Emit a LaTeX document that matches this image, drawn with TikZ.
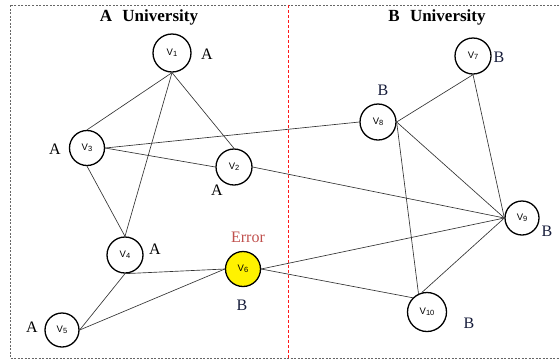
\documentclass[tikz,border=0pt]{standalone}
\usepackage{fontspec}
\setmainfont{Liberation Serif}
\newfontfamily\nodefont{Liberation Sans}
\definecolor{errred}{RGB}{192,80,77}
\definecolor{bblue}{RGB}{22,28,58}
\newcommand{\vlab}[1]{{\nodefont\fontsize{9.5}{10}\selectfont V\raisebox{-1pt}{\fontsize{7.5}{8}\selectfont #1}}}
\begin{document}
\begin{tikzpicture}[x=1pt,y=-1pt,
  vert/.style={circle,draw=black,line width=1.3pt,inner sep=0pt,fill=white},
  edge/.style={draw=black!80,line width=0.65pt},
  lab/.style={font=\fontsize{16}{16}\selectfont,inner sep=0pt},
  labB/.style={lab,text=bblue},
  title/.style={font=\fontsize{17}{17}\selectfont\bfseries,inner sep=0pt}]
\useasboundingbox (0,0) rectangle (559,360);
\draw[gray!80!black,line width=0.7pt,dash pattern=on 2pt off 1.5pt] (10,5) rectangle (565,358);
\draw[red!90,line width=0.7pt,dash pattern=on 3pt off 2pt] (288,5) -- (288,358);
\node[title] (tA) at (149,17) {A\hspace{0.6em}University};
\node[title] (tB) at (437,17) {B\hspace{0.6em}University};
% vertices
\node[vert,minimum size=38pt] (v1) at (172,53) {\vlab{1}};
\node[vert,minimum size=36pt] (v2) at (234,167) {\vlab{2}};
\node[vert,minimum size=35pt] (v3) at (87,148) {\vlab{3}};
\node[vert,minimum size=36pt] (v4) at (125,255) {\vlab{4}};
\node[vert,minimum size=34pt] (v5) at (62,330) {\vlab{5}};
\node[vert,minimum size=35pt,fill=yellow] (v6) at (243,269) {\vlab{6}};
\node[vert,minimum size=36pt] (v7) at (473,56) {\vlab{7}};
\node[vert,minimum size=36pt] (v8) at (378,122) {\vlab{8}};
\node[vert,minimum size=34pt] (v9) at (522,218) {\vlab{9}};
\node[vert,minimum size=39pt] (v10) at (427,312) {\vlab{10}};
% edges
\path[edge] (v1.south) -- (v3.north);
\path[edge] (v1.south) -- (v4.north);
\path[edge] (v1.south) -- (v2.north);
\path[edge] (v3.east) -- (v8.west);
\path[edge] (v3.east) -- (v2.west);
\path[edge] (v2.east) -- (v9.west);
\path[edge] (v3.south) -- (v4.north);
\path[edge] (v4.south) -- (v6.west);
\path[edge] (v4.south) -- (v5.east);
\path[edge] (v5.east) -- (v6.west);
\path[edge] (v6.east) -- (v9.west);
\path[edge] (v6.east) -- (v10.north west);
\path[edge] (v8.east) -- (v7.south);
\path[edge] (v8.east) -- (v9.west);
\path[edge] (v8.east) -- (v10.115);
\path[edge] (v7.south) -- (v9.west);
\path[edge] (v9.west) -- (v10.105);
% labels
\node[lab] (l1) at (207,54) {A};
\node[lab] (l3) at (55,149) {A};
\node[lab] (l2) at (217,190) {A};
\node[lab] (l4) at (155,249) {A};
\node[lab] (l5) at (32,327) {A};
\node[lab,text=errred] (le) at (248,237) {Error};
\node[labB] (l6) at (242,305) {B};
\node[labB] (l8) at (383,90) {B};
\node[labB] (l7) at (499,57) {B};
\node[labB] (l9) at (547,231) {B};
\node[labB] (l10) at (469,323) {B};
\end{tikzpicture}
\end{document}
